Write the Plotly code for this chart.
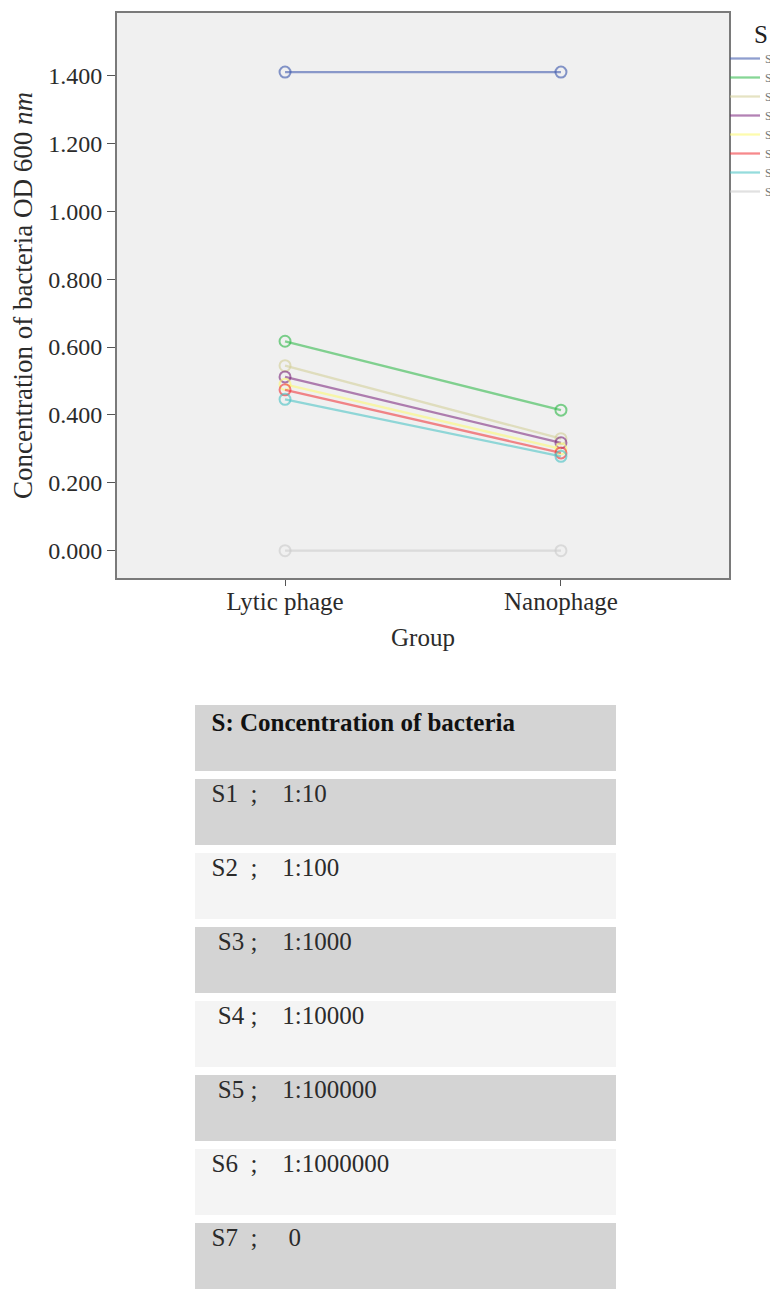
import plotly.graph_objects as go

# Profile-plot data (OD 600 nm)
groups = ['Lytic phage', 'Nanophage']
series_names = ['S1', 'S2', 'S3', 'S4', 'S5', 'S6', 'S7', 'S8']
lytic_values = [1.410, 0.617, 0.545, 0.512, 0.490, 0.474, 0.446, 0.000]
nano_values = [1.410, 0.414, 0.330, 0.318, 0.300, 0.288, 0.278, 0.000]
series_colors = ['#3E58AC', '#2EB848', '#D3CE97', '#7C287D',
                 '#FBF873', '#EF3338', '#48C2C5', '#CCCCCC']

# Key table below the plot
table_header = 'S: Concentration of bacteria'
table_rows = ['S1  ;    1:10', 'S2  ;    1:100', ' S3 ;    1:1000', ' S4 ;    1:10000',
              ' S5 ;    1:100000', 'S6  ;    1:1000000', 'S7  ;     0']

# page body has an 8px margin, so the figure is a bit smaller and offset
OFF = 8
W, H = 778 - OFF, 1298 - OFF
SERIF = 'Liberation Serif, Times New Roman, serif'
TXT = '#2b2b2b'


def px(x):
    return (x - OFF) / W


def py(y):
    return 1 - (y - OFF) / H


def rgba(hex_color, a):
    h = hex_color.lstrip('#')
    r, g, b = int(h[0:2], 16), int(h[2:4], 16), int(h[4:6], 16)
    return f'rgba({r},{g},{b},{a})'


fig = go.Figure()

# lines (shown in legend) and open-circle markers (not in legend)
for name, a, b, c in zip(series_names, lytic_values, nano_values, series_colors):
    fig.add_trace(go.Scatter(
        x=groups, y=[a, b], mode='lines', name=name,
        line=dict(color=rgba(c, 0.58), width=2.3),
        legendgroup=name,
    ))
    fig.add_trace(go.Scatter(
        x=groups, y=[a, b], mode='markers', name=name, showlegend=False,
        marker=dict(symbol='circle-open', size=11, color=rgba(c, 0.62),
                    line=dict(width=2)),
        legendgroup=name,
    ))

NB = '\u00a0'
cells = [NB * 2 + r.replace(' ', NB) for r in table_rows]
fills = ['#d4d4d4' if i % 2 == 0 else '#f4f4f4' for i in range(len(cells))]

fig.add_trace(go.Table(
    domain=dict(x=[px(191), px(620)], y=[0, py(701)]),
    columnwidth=[1],
    header=dict(
        values=['<b>' + NB * 2 + table_header + '</b>'],
        fill_color='#d4d4d4',
        line=dict(color='white', width=8),
        align='left',
        height=74,
        font=dict(family=SERIF, size=25, color='#111111'),
    ),
    cells=dict(
        values=[cells],
        fill_color=[fills],
        line=dict(color='white', width=8),
        align='left',
        height=74,
        font=dict(family=SERIF, size=25, color=TXT),
    ),
))

fig.add_annotation(
    text='S', x=px(752), y=py(34), xref='paper', yref='paper',
    xanchor='left', yanchor='middle',
    showarrow=False, font=dict(family=SERIF, size=25, color='#222222'),
)

fig.update_layout(
    width=W, height=H,
    paper_bgcolor='white',
    plot_bgcolor='#f0f0f0',
    margin=dict(l=0, r=0, t=0, b=0, autoexpand=False),
    font=dict(family=SERIF, color=TXT),
    showlegend=True,
    legend=dict(
        x=px(725), y=py(44), xanchor='left', yanchor='top',
        bgcolor='rgba(0,0,0,0)', itemwidth=30,
        font=dict(family=SERIF, size=12, color='#777777'),
        tracegroupgap=0,
    ),
    xaxis=dict(
        domain=[px(117), px(729)],
        type='category',
        range=[-0.609, 1.609],
        showgrid=False, zeroline=False,
        showline=True, mirror=True, linecolor='#7a7a7a', linewidth=2,
        ticks='outside', ticklen=6, tickcolor='#555555',
        ticklabelstandoff=-6,
        tickfont=dict(family=SERIF, size=25, color=TXT),
        title=dict(text='Group', font=dict(family=SERIF, size=25, color=TXT),
                   standoff=14),
    ),
    yaxis=dict(
        domain=[py(578), py(13)],
        range=[-0.0804, 1.584],
        tickvals=[0, 0.2, 0.4, 0.6, 0.8, 1.0, 1.2, 1.4],
        tickformat='.3f',
        showgrid=False, zeroline=False,
        showline=True, mirror=True, linecolor='#7a7a7a', linewidth=2,
        ticks='outside', ticklen=8, tickcolor='#555555',
        tickfont=dict(family=SERIF, size=24, color=TXT),
        title=dict(text='Concentration of bacteria OD 600 <i>nm</i>',
                   font=dict(family=SERIF, size=27, color=TXT),
                   standoff=8),
    ),
)

fig.write_html('out.html')
